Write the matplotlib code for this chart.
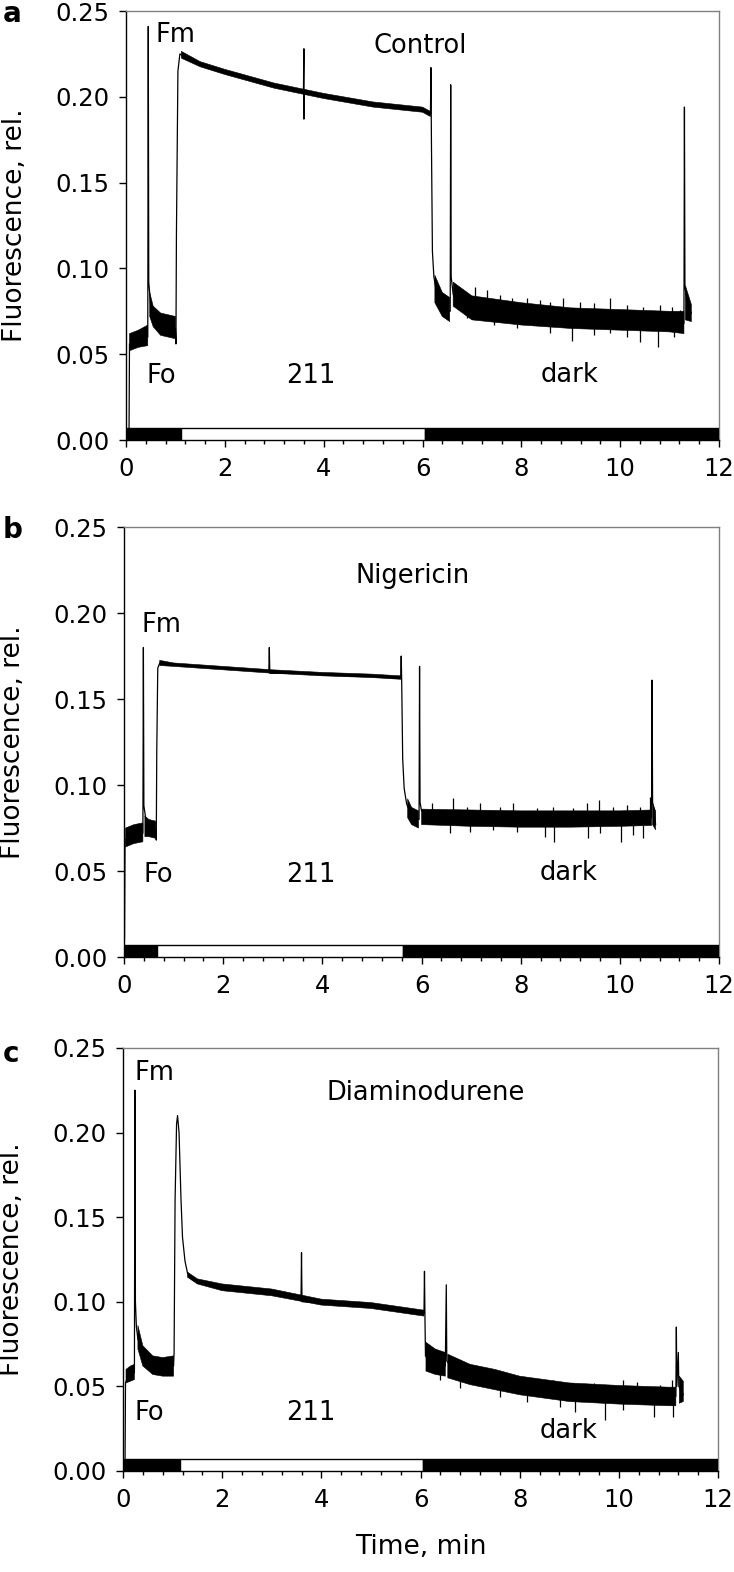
import numpy as np
from matplotlib import pyplot as plt
from matplotlib.ticker import MultipleLocator, FormatStrFormatter

nan = np.nan

# ---- panel a: Control ----
ctrl_t = [0.0, 0.06, 0.07, 0.2, 0.44, 0.45, 0.46, 0.5, 0.6, 0.8, 1.0, 1.01, 1.02, 1.05, 1.09, 1.2,
          1.5, 2.0, 2.5, 3.0, 3.59, 3.6, 3.6, 3.61, 4.0, 4.5, 5.0, 5.5, 6.0, 6.16, 6.17, 6.18, 6.2,
          6.23, 6.27, 6.35, 6.45, 6.56, 6.57, 6.58, 6.62, 6.7, 7.0, 8.0, 9.0, 10.0, 11.0, 11.29,
          11.3, 11.31, 11.35, 11.44]
ctrl_f = [0.0, 0.0, 0.056, 0.058, 0.06, 0.241, 0.092, 0.078, 0.07, 0.066, 0.065, 0.056, 0.12,
          0.215, 0.225, 0.223, 0.219, 0.2145, 0.21, 0.2065, 0.203, 0.228, 0.187, 0.202, 0.2005,
          0.198, 0.1955, 0.194, 0.1925, 0.19, 0.217, 0.175, 0.11, 0.095, 0.088, 0.08, 0.077,
          0.075, 0.207, 0.095, 0.085, 0.08, 0.077, 0.0735, 0.071, 0.07, 0.069, 0.068, 0.194,
          0.09, 0.08, 0.074]
ctrl_band_t = [0.07, 0.25, 0.44, nan, 0.48, 0.55, 0.7, 1.0, nan, 1.12, 1.5, 2.0, 3.0, 4.0, 5.0,
               6.0, 6.16, nan, 6.25, 6.4, 6.55, nan, 6.62, 7.0, 8.0, 9.0, 10.0, 11.0, 11.29, nan,
               11.32, 11.44]
ctrl_band_lo = [0.052, 0.054, 0.055, nan, 0.072, 0.066, 0.061, 0.059, nan, 0.2225, 0.2175, 0.213,
                0.205, 0.199, 0.194, 0.191, 0.1885, nan, 0.08, 0.072, 0.069, nan, 0.078, 0.07,
                0.067, 0.065, 0.064, 0.063, 0.062, nan, 0.07, 0.069]
ctrl_band_hi = [0.062, 0.064, 0.067, nan, 0.086, 0.078, 0.074, 0.072, nan, 0.2265, 0.2205, 0.216,
                0.208, 0.202, 0.197, 0.194, 0.1915, nan, 0.096, 0.086, 0.083, nan, 0.092, 0.084,
                0.080, 0.077, 0.076, 0.075, 0.075, nan, 0.09, 0.079]
ctrl_spike_t = [6.76, 7.06, 7.30, 7.57, 7.81, 8.11, 8.38, 8.58, 8.85, 9.19, 9.46, 9.80, 10.13,
                10.47, 10.81, 11.05, 11.21,
                6.90, 7.44, 7.91, 8.58, 9.03, 9.46, 9.80, 10.13, 10.40, 10.76, 11.08]
ctrl_spike_lo = [0.079, 0.077, 0.076, 0.075, 0.074, 0.0735, 0.073, 0.0725, 0.0715, 0.071, 0.0705,
                 0.070, 0.070, 0.0695, 0.069, 0.069, 0.0685,
                 0.0709, 0.0670, 0.0651, 0.0622, 0.0579, 0.0612, 0.0622, 0.0603, 0.0573, 0.0544,
                 0.0603]
ctrl_spike_hi = [0.0855, 0.0893, 0.0874, 0.0845, 0.0826, 0.0826, 0.0816, 0.0806, 0.0826, 0.0806,
                 0.0797, 0.0826, 0.0787, 0.0777, 0.0787, 0.0777, 0.0758,
                 0.078, 0.0755, 0.074, 0.0725, 0.071, 0.0705, 0.070, 0.070, 0.0695, 0.069, 0.069]
ctrl_light = [0.0, 1.11, 6.05, 12.0]

# ---- panel b: Nigericin ----
nig_t = [0.0, 0.01, 0.02, 0.1, 0.38, 0.39, 0.4, 0.45, 0.64, 0.65, 0.66, 0.68, 0.72, 1.0, 2.0,
         2.92, 2.93, 2.94, 3.5, 4.0, 5.0, 5.58, 5.59, 5.6, 5.62, 5.65, 5.7, 5.8, 5.95, 5.96, 5.97,
         6.0, 6.2, 8.0, 10.6, 10.64, 10.65, 10.66, 10.7, 10.72]
nig_f = [0.0, 0.012, 0.068, 0.07, 0.072, 0.18, 0.088, 0.078, 0.074, 0.068, 0.12, 0.168, 0.171,
         0.17, 0.168, 0.166, 0.18, 0.165, 0.165, 0.164, 0.163, 0.162, 0.175, 0.16, 0.115, 0.098,
         0.089, 0.082, 0.08, 0.169, 0.09, 0.085, 0.081, 0.08, 0.08, 0.081, 0.161, 0.09, 0.085,
         0.077]
nig_band_t = [0.03, 0.2, 0.38, nan, 0.42, 0.5, 0.64, nan, 0.72, 1.0, 2.0, 3.0, 4.0, 5.0, 5.58,
              nan, 5.72, 5.8, 5.94, nan, 6.0, 7.0, 8.0, 9.0, 10.0, 10.64, nan, 10.66, 10.72]
nig_band_lo = [0.064, 0.066, 0.067, nan, 0.07, 0.07, 0.069, nan, 0.1695, 0.169, 0.167, 0.165,
               0.1635, 0.1625, 0.1615, nan, 0.081, 0.077, 0.075, nan, 0.077, 0.076, 0.0755,
               0.0755, 0.076, 0.0765, nan, 0.077, 0.074]
nig_band_hi = [0.075, 0.077, 0.078, nan, 0.082, 0.08, 0.079, nan, 0.1725, 0.171, 0.169, 0.167,
               0.1655, 0.1645, 0.1635, nan, 0.092, 0.087, 0.085, nan, 0.086, 0.0855, 0.085,
               0.085, 0.085, 0.0855, nan, 0.089, 0.085]
nig_spike_t = [6.21, 6.64, 6.91, 7.18, 7.58, 7.85, 8.32, 8.66, 9.06, 9.33, 9.57, 9.87, 10.14,
               10.41, 10.61,
               6.58, 6.98, 7.45, 7.92, 8.49, 8.68, 9.35, 9.60, 10.02, 10.27, 10.47]
nig_spike_lo = [0.081, 0.081, 0.081, 0.081, 0.081, 0.081, 0.081, 0.081, 0.081, 0.081, 0.081,
                0.081, 0.081, 0.081, 0.081,
                0.0719, 0.0729, 0.0738, 0.0729, 0.0700, 0.0671, 0.0690, 0.0719, 0.0671, 0.0709,
                0.0690]
nig_spike_hi = [0.0893, 0.0922, 0.0874, 0.0893, 0.0874, 0.0893, 0.0864, 0.0874, 0.0864, 0.0893,
                0.0913, 0.0874, 0.0884, 0.0874, 0.0932,
                0.081, 0.081, 0.081, 0.081, 0.081, 0.081, 0.081, 0.081, 0.081, 0.081, 0.081]
nig_light = [0.0, 0.66, 5.62, 12.0]

# ---- panel c: Diaminodurene ----
dad_t = [0.0, 0.04, 0.05, 0.1, 0.23, 0.24, 0.25, 0.27, 0.3, 0.4, 0.5, 0.7, 1.02, 1.03, 1.05,
         1.08, 1.1, 1.13, 1.17, 1.2, 1.25, 1.3, 1.4, 1.6, 2.0, 3.0, 3.59, 3.6, 3.61, 4.0, 5.0,
         6.0, 6.07, 6.08, 6.09, 6.1, 6.2, 6.5, 6.52, 6.53, 6.6, 7.0, 7.5, 8.0, 8.5, 9.0, 10.0,
         11.0, 11.15, 11.16, 11.17, 11.2, 11.21, 11.3]
dad_f = [0.0, 0.0, 0.052, 0.056, 0.058, 0.225, 0.1, 0.085, 0.078, 0.068, 0.064, 0.062, 0.062,
         0.07, 0.16, 0.205, 0.21, 0.2, 0.16, 0.138, 0.124, 0.117, 0.113, 0.111, 0.1085, 0.1055,
         0.101, 0.129, 0.1, 0.0995, 0.0975, 0.0935, 0.093, 0.118, 0.09, 0.068, 0.064, 0.062,
         0.11, 0.065, 0.062, 0.057, 0.053, 0.05, 0.048, 0.046, 0.045, 0.044, 0.044, 0.085, 0.05,
         0.07, 0.05, 0.045]
dad_band_t = [0.06, 0.15, 0.23, nan, 0.3, 0.4, 0.6, 0.8, 1.02, nan, 1.3, 1.5, 2.0, 3.0, 4.0,
              5.0, 6.07, nan, 6.11, 6.3, 6.5, nan, 6.55, 7.0, 7.5, 8.0, 8.5, 9.0, 10.0, 11.0,
              11.15, nan, 11.22, 11.3]
dad_band_lo = [0.052, 0.053, 0.054, nan, 0.072, 0.062, 0.057, 0.056, 0.056, nan, 0.1145, 0.1105,
               0.1065, 0.1035, 0.098, 0.096, 0.0915, nan, 0.059, 0.057, 0.056, nan, 0.055, 0.051,
               0.048, 0.045, 0.043, 0.041, 0.0395, 0.0385, 0.0385, nan, 0.04, 0.041]
dad_band_hi = [0.06, 0.062, 0.063, nan, 0.086, 0.074, 0.068, 0.067, 0.068, nan, 0.1175, 0.1135,
               0.1105, 0.1075, 0.1015, 0.0995, 0.095, nan, 0.076, 0.072, 0.07, nan, 0.069, 0.063,
               0.06, 0.056, 0.054, 0.052, 0.0505, 0.0495, 0.0495, nan, 0.056, 0.053]
dad_spike_t = [6.23, 6.39, 6.73, 7.00, 7.37, 7.67, 8.28, 8.68, 9.08, 9.49, 10.09, 10.36, 10.83,
               11.07,
               6.39, 6.80, 7.60, 8.14, 8.81, 9.12, 9.72, 10.09, 10.70, 11.10]
dad_spike_lo = [0.064, 0.063, 0.060, 0.057, 0.054, 0.052, 0.049, 0.047, 0.046, 0.0455, 0.045,
                0.0445, 0.044, 0.044,
                0.0538, 0.0489, 0.0439, 0.0410, 0.0380, 0.0351, 0.0301, 0.0361, 0.0321, 0.0321]
dad_spike_hi = [0.0676, 0.0656, 0.0636, 0.0627, 0.0577, 0.0577, 0.0548, 0.0538, 0.0518, 0.0518,
                0.0538, 0.0528, 0.0508, 0.0538,
                0.063, 0.059, 0.0525, 0.0495, 0.0465, 0.046, 0.045, 0.045, 0.044, 0.044]
dad_light = [0.0, 1.15, 6.05, 12.0]

light_colors = ['black', 'white', 'black']

plt.rcParams['font.family'] = ['DejaVu Sans']
fig = plt.figure(figsize=(7.34, 15.72), dpi=100)


def draw_panel(rect, t, f, bt, blo, bhi, st, slo, shi, light, letter, letter_y, texts, xlabel=False):
    ax = fig.add_axes(rect)
    ax.fill_between(bt, blo, bhi, color='black', lw=0.4)
    ax.plot(t, f, color='black', lw=0.9)
    ax.vlines(st, slo, shi, color='black', lw=0.9)
    # light / dark bar at the bottom
    for i in range(len(light) - 1):
        ax.bar(light[i], 0.0068, width=light[i + 1] - light[i], bottom=0, align='edge',
               color=light_colors[i], edgecolor='black', lw=1.0, zorder=3)
    for (x, y, s) in texts:
        ax.text(x, y, s, fontsize=18.5, ha='left', va='baseline')
    ax.set_xlim(0, 12)
    ax.set_ylim(0, 0.25)
    ax.xaxis.set_major_locator(MultipleLocator(2))
    ax.xaxis.set_minor_locator(MultipleLocator(0.4))
    ax.yaxis.set_major_locator(MultipleLocator(0.05))
    ax.yaxis.set_major_formatter(FormatStrFormatter('%.2f'))
    ax.tick_params(axis='both', which='major', direction='out', length=5, width=1,
                   labelsize=17.5, pad=7)
    ax.tick_params(axis='x', which='minor', direction='out', length=3, width=1)
    for s in ['top', 'right']:
        ax.spines[s].set_color('#808080')
    for s in ax.spines.values():
        s.set_linewidth(1)
    ax.set_ylabel('Fluorescence, rel.', fontsize=19)
    ax.yaxis.set_label_coords(-0.165, 0.5)
    if xlabel:
        ax.set_xlabel('Time, min', fontsize=19)
        ax.xaxis.set_label_coords(0.5, -0.15)
    fig.text(0.004, letter_y, letter, fontsize=20, fontweight='bold', ha='left', va='baseline')
    return ax


draw_panel([0.1717, 0.7201, 0.8079, 0.2729], ctrl_t, ctrl_f, ctrl_band_t, ctrl_band_lo,
           ctrl_band_hi, ctrl_spike_t, ctrl_spike_lo, ctrl_spike_hi, ctrl_light, 'a', 0.986,
           [(0.59, 0.232, 'Fm'), (0.42, 0.033, 'Fo'), (3.24, 0.033, '211'),
            (5.0, 0.2255, 'Control'), (8.38, 0.0338, 'dark')])
draw_panel([0.1690, 0.3912, 0.8106, 0.2735], nig_t, nig_f, nig_band_t, nig_band_lo,
           nig_band_hi, nig_spike_t, nig_spike_lo, nig_spike_hi, nig_light, 'b', 0.658,
           [(0.36, 0.189, 'Fm'), (0.385, 0.0438, 'Fo'), (3.27, 0.0438, '211'),
            (4.66, 0.2176, 'Nigericin'), (8.39, 0.0448, 'dark')])
draw_panel([0.1676, 0.0643, 0.8106, 0.2691], dad_t, dad_f, dad_band_t, dad_band_lo,
           dad_band_hi, dad_spike_t, dad_spike_lo, dad_spike_hi, dad_light, 'c', 0.3246,
           [(0.24, 0.231, 'Fm'), (0.24, 0.030, 'Fo'), (3.29, 0.030, '211'),
            (4.11, 0.219, 'Diaminodurene'), (8.41, 0.0193, 'dark')], xlabel=True)

fig.savefig('out.png', dpi=100)
